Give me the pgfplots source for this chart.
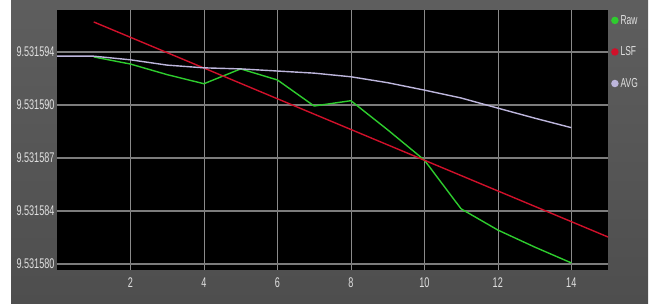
\documentclass[border=0pt]{standalone}
\usepackage{pgfplots}
\pgfplotsset{compat=1.18}
\usepackage{fontspec}
\setmainfont{Liberation Sans}
\usepackage{graphicx}
\definecolor{bgtop}{HTML}{5E5E5E}
\definecolor{bgbot}{HTML}{4E4E4E}
\definecolor{rawc}{HTML}{2ECC2E}
\definecolor{lsfc}{HTML}{D0102A}
\definecolor{avgc}{HTML}{BDB6DC}
\definecolor{gridc}{HTML}{8A8A8A}
\definecolor{labc}{HTML}{E0E0E0}
\newcommand\cn[1]{\scalebox{0.65}[1]{#1}}
\begin{document}
\begin{tikzpicture}
\useasboundingbox (0pt,0pt) rectangle (652pt,304pt);
\shade[top color=bgtop, bottom color=bgbot] (11pt,0pt) rectangle (648pt,304pt);
\begin{axis}[
  at={(57pt,34pt)}, anchor=south west,
  width=551pt, height=260pt, scale only axis,
  xmin=0, xmax=15, ymin=-0.4, ymax=16.77,
  axis background/.style={fill=black},
  axis line style={draw=none},
  major tick length=0pt,
  xtick={2,4,6,8,10,12,14},
  xticklabels={\cn{2},\cn{4},\cn{6},\cn{8},\cn{10},\cn{12},\cn{14}},
  ytick={0,3.5,7,10.5,14},
  yticklabels={\cn{9.531580},\cn{9.531584},\cn{9.531587},\cn{9.531590},\cn{9.531594}},
  tick label style={font=\fontsize{14}{14}\selectfont, text=labc},
  xticklabel style={yshift=-4pt},
  yticklabel style={xshift=1pt},
  xmajorgrids, ymajorgrids,
  x grid style={gridc, line width=0.6pt},
  y grid style={gridc!90!black, line width=1.8pt},
  legend style={at={(axis description cs:1,1)}, anchor=north west, xshift=3pt, yshift=-3pt,
    draw=none, fill=none, text=labc, font=\fontsize{13}{13}\selectfont,
    row sep=17pt, inner sep=0pt},
  legend cell align=left,
  legend image code/.code={\fill[#1] (3pt,0pt) circle (3pt);},
  every axis plot/.append style={line width=1.4pt},
]
\addplot[rawc] coordinates {
 (1,13.67) (2,13.2) (3,12.5) (4,11.9) (5,12.88) (6,12.15) (7,10.43)
 (8,10.78) (9,8.86) (10,6.86) (11,3.64) (12,2.24) (13,1.12) (14,0.07)};
\addlegendentry{\cn{Raw}}
\addplot[lsfc] coordinates {(1,15.98) (15,1.78)};
\addlegendentry{\cn{LSF}}
\addplot[avgc] coordinates {
 (0,13.72) (1,13.72) (2,13.48) (3,13.13) (4,12.95) (5,12.88) (6,12.74)
 (7,12.6) (8,12.36) (9,11.97) (10,11.48) (11,10.96) (12,10.29) (13,9.63) (14,9.0)};
\addlegendentry{\cn{AVG}}
\end{axis}
\end{tikzpicture}
\end{document}
